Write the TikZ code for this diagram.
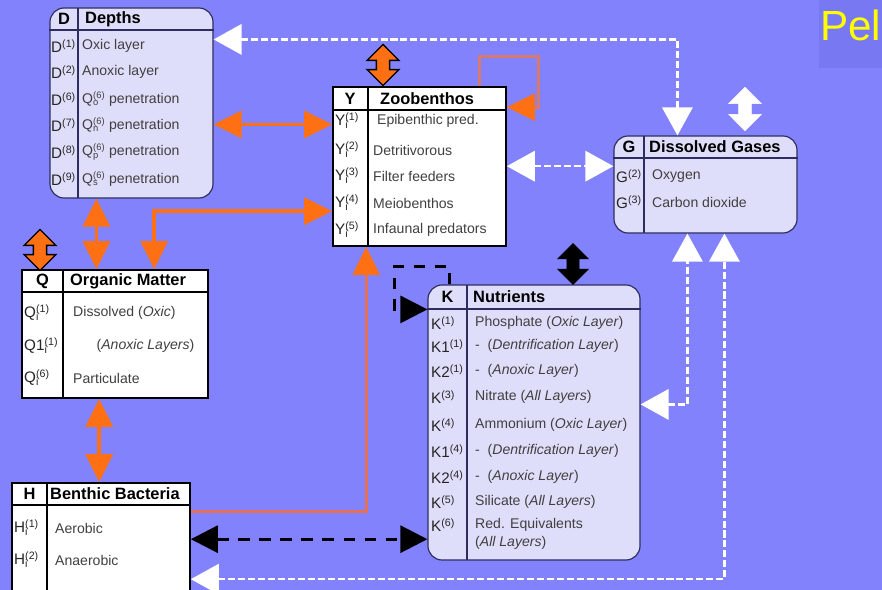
\documentclass[tikz,border=0pt]{standalone}
\usepackage{fontspec}
\setmainfont{Liberation Sans}
\usepackage{tikz}
\usetikzlibrary{arrows.meta,positioning,calc,fit,shapes.arrows}
\definecolor{bgblue}{RGB}{130,130,252}
\definecolor{pelblue}{RGB}{120,120,242}
\definecolor{lavfill}{RGB}{222,222,250}
\definecolor{navyline}{RGB}{45,45,95}
\definecolor{orangeC}{RGB}{255,112,20}
\definecolor{salmonC}{RGB}{228,112,88}
\definecolor{pinkC}{RGB}{214,122,112}
\definecolor{pelyellow}{RGB}{255,255,0}
\newcommand{\subsup}[3]{#1\rlap{\textsubscript{#2}}\textsuperscript{#3}}
\tikzset{btip/.tip={Triangle[length=23pt,width=23pt]}}

\begin{document}
\begin{tikzpicture}[x=0.03cm, y=-0.03cm,
  tabbox/.style={draw=black, line width=1.4pt, fill=white, inner sep=0pt},
  rndbox/.style={draw=navyline, line width=1pt, fill=lavfill, rounded corners=12pt, inner sep=0pt},
  tabline/.style={draw=black, line width=1.4pt},
  rndline/.style={draw=navyline, line width=1pt},
  hdr/.style={font=\fontsize{14}{16}\selectfont\bfseries, inner sep=0pt},
  lbl/.style={font=\fontsize{13}{15}\selectfont, text=black!85, anchor=west, inner sep=0pt},
  row/.style={font=\fontsize{12}{14}\selectfont, text=black!75, anchor=west, inner sep=0pt, align=left},
  orgarrow/.style={draw=orangeC, line width=3pt,
    {Triangle[length=24pt,width=23pt]}-{Triangle[length=24pt,width=23pt]}},
  feedline/.style={line width=2.5pt, -{Triangle[length=24pt,width=23pt,color=orangeC]}},
  wdash/.style={draw=white, line width=2pt, dash pattern=on 6pt off 2.5pt,
    {Triangle[length=24pt,width=26pt]}-{Triangle[length=24pt,width=26pt]}},
  bdash/.style={draw=black, line width=2.5pt, dash pattern=on 10pt off 8pt},
  xchg/.style={double arrow, shape border rotate=90, inner sep=5pt,
    minimum height=35pt, minimum width=26pt, double arrow head extend=8pt},
]
% background
\fill[bgblue] (0,0) rectangle (882,590);
\useasboundingbox (0,0) rectangle (882,590);
\fill[pelblue] (819,0) rectangle (882,68);
\node[text=pelyellow, font=\fontsize{36}{40}\selectfont, anchor=west, inner sep=0pt] (pel) at (820,25) {Pel};

% boxes
\node[rndbox, fit={(50,8) (213,198)}] (D) {};
\node[tabbox, fit={(333,87) (506,246)}] (Y) {};
\node[rndbox, fit={(614,136) (797,233)}] (G) {};
\node[tabbox, fit={(22,270) (208,398)}] (Q) {};
\node[tabbox, fit={(12,483) (190,596)}] (H) {};
\node[rndbox, fit={(428,285) (640,560)}] (K) {};

% table rules
\draw[rndline] (D.west |- 0,30) -- (D.east |- 0,30);
\draw[rndline] (78,8) -- (78,198);
\draw[tabline] (Y.west |- 0,110) -- (Y.east |- 0,110);
\draw[tabline] (368,87) -- (368,246);
\draw[rndline] (G.west |- 0,158) -- (G.east |- 0,158);
\draw[rndline] (644,136) -- (644,233);
\draw[tabline] (Q.west |- 0,292) -- (Q.east |- 0,292);
\draw[tabline] (63,270) -- (63,398);
\draw[tabline] (H.west |- 0,505) -- (H.east |- 0,505);
\draw[tabline] (47,483) -- (47,596);
\draw[rndline] (K.west |- 0,309) -- (K.east |- 0,309);
\draw[rndline] (467,285) -- (467,560);

% headers
\node[hdr] (Dh) at (64,19) {D};
\node[hdr, anchor=west] (Dt) at (85,19) {Depths};
\node[hdr] (Yh) at (350,98.5) {Y};
\node[hdr, anchor=west] (Yt) at (380,98.5) {Zoobenthos};
\node[hdr] (Gh) at (629,147) {G};
\node[hdr, anchor=west] (Gt) at (649,147) {Dissolved Gases};
\node[hdr] (Qh) at (42.5,281) {Q};
\node[hdr, anchor=west] (Qt) at (70,281) {Organic Matter};
\node[hdr] (Hh) at (29.5,494) {H};
\node[hdr, anchor=west] (Ht) at (50,494) {Benthic Bacteria};
\node[hdr] (Kh) at (447.5,297) {K};
\node[hdr, anchor=west] (Kt) at (473,297) {Nutrients};

% rows
\foreach \yy/\lb/\tx [count=\i] in {
  46/{D\textsuperscript{(1)}}/{Oxic layer},
  72/{D\textsuperscript{(2)}}/{Anoxic layer},
  99/{D\textsuperscript{(6)}}/{\subsup{Q}{o}{(6)} penetration},
  125/{D\textsuperscript{(7)}}/{\subsup{Q}{n}{(6)} penetration},
  152/{D\textsuperscript{(8)}}/{\subsup{Q}{p}{(6)} penetration},
  179/{D\textsuperscript{(9)}}/{\subsup{Q}{s}{(6)} penetration}}{
  \node[lbl] (dl\i) at (51,\yy) {\lb};
  \node[row] (dr\i) at (82,\yy) {\tx};
}
\foreach \yy/\lb/\tx [count=\i] in {
  121/{(1)}/{\ Epibenthic pred.},
  150/{(2)}/{Detritivorous},
  176/{(3)}/{Filter feeders},
  203/{(4)}/{Meiobenthos},
  230/{(5)}/{Infaunal predators}}{
  \node[lbl] (yl\i) at (335,\yy) {\subsup{Y}{i}{\lb}};
  \node[row] (yr\i) at (373,\yy) {\tx};
}
\foreach \yy/\lb/\tx [count=\i] in {
  176/{(2)}/{Oxygen},
  202/{(3)}/{Carbon dioxide}}{
  \node[lbl] (gl\i) at (616,\yy) {G\textsuperscript{\lb}};
  \node[row] (gr\i) at (652,\yy) {\tx};
}
\foreach \yy/\lb/\tx [count=\i] in {
  313/{\subsup{Q}{i}{(1)}}/{Dissolved (\textit{Oxic})},
  346/{\subsup{Q1}{i}{(1)}}/{\hspace{20pt}(\textit{Anoxic Layers})},
  378/{\subsup{Q}{i}{(6)}}/{Particulate}}{
  \node[lbl] (ql\i) at (24,\yy) {\lb};
  \node[row] (qr\i) at (73,\yy) {\tx};
}
\foreach \yy/\lb/\tx [count=\i] in {
  528/{(1)}/{Aerobic},
  560/{(2)}/{Anaerobic}}{
  \node[lbl] (hl\i) at (14,\yy) {\subsup{H}{i}{\lb}};
  \node[row] (hr\i) at (55,\yy) {\tx};
}
\foreach \yy/\lb/\tx [count=\i] in {
  323/{K\textsuperscript{(1)}}/{Phosphate (\textit{Oxic Layer})},
  346/{K1\textsuperscript{(1)}}/{- \ (\textit{Dentrification Layer})},
  371/{K2\textsuperscript{(1)}}/{- \ (\textit{Anoxic Layer})},
  397/{K\textsuperscript{(3)}}/{Nitrate (\textit{All Layers})},
  425/{K\textsuperscript{(4)}}/{Ammonium (\textit{Oxic Layer})},
  451/{K1\textsuperscript{(4)}}/{- \ (\textit{Dentrification Layer})},
  477/{K2\textsuperscript{(4)}}/{- \ (\textit{Anoxic Layer})},
  502/{K\textsuperscript{(5)}}/{Silicate (\textit{All Layers})},
  525/{K\textsuperscript{(6)}}/{Red. Equivalents}}{
  \node[lbl] (kl\i) at (431,\yy) {\lb};
  \node[row] (kr\i) at (475,\yy) {\tx};
}
\node[row] (kr10) at (475,543) {(\textit{All Layers})};

% exchange arrows
\node[xchg, draw=black, line width=1.2pt, fill=orangeC] (yx) at (383,65) {};
\node[xchg, draw=black, line width=1.2pt, fill=orangeC] (qx) at (40,250) {};
\node[xchg, draw=black, fill=black] (kx) at (573,264) {};
\node[xchg, draw=white, fill=white, minimum height=37pt, minimum width=28pt] (gx) at (745,109) {};

% white dashed exchanges
\draw[wdash] ($(D.north east)+(0,32)$) -| ($(G.north west)+(64,0)$);
\draw[wdash] ($(Y.north east)+(0,80)$) coordinate (yg) -- (yg -| G.west);
\draw[wdash] ($(K.north east)+(0,120)$) -| ($(G.south west)+(74,0)$);
\draw[wdash] ($(H.north east)+(0,97)$) -| ($(G.south west)+(111,0)$);

% orange links
\draw[orgarrow] ($(D.north east)+(0,117)$) coordinate (dy) -- (dy -| Y.west);
\draw[orgarrow] ($(D.south west)+(47,0)$) coordinate (dq) -- (dq |- Q.north);
\draw[orgarrow] ($(Q.north west)+(133,0)$) |- ($(Y.north west)+(0,125)$);
\draw[orgarrow] ($(Q.south west)+(78,0)$) coordinate (qh) -- (qh |- H.north);
\draw[feedline, draw=salmonC] ($(H.north east)+(0,29)$) -| ($(Y.south west)+(34,0)$);
\coordinate (ylo) at ($(Y.north east)+(0,21)$);
\draw[feedline, draw=pinkC] ($(Y.north west)+(147,0)$) -- ++(0,-30) -| ($(ylo)+(32,0)$) -- (ylo);

% black dashed links
\draw[bdash, btip-btip] ($(H.north east)+(0,57)$) coordinate (hk) -- (hk -| K.west);
\draw[bdash, -btip] ($(K.north west)+(22,0)$) |- ($(K.north west)+(-33,-18)$) |- ($(K.north west)+(0,25)$);
\end{tikzpicture}
\end{document}
